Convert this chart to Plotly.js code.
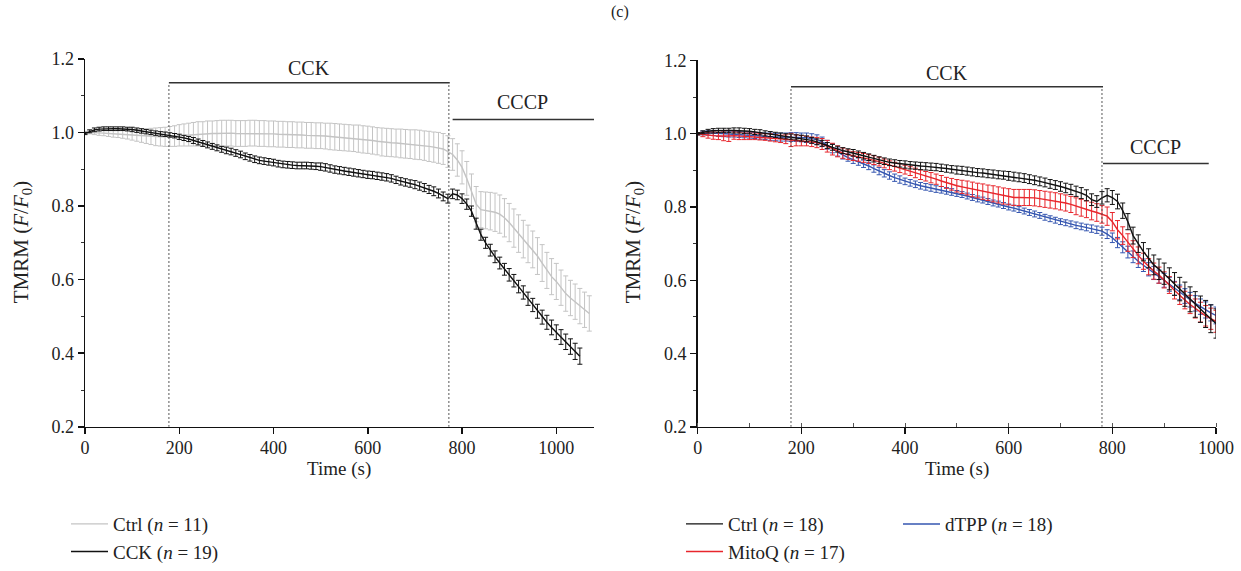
<!DOCTYPE html>
<html>
<head>
<meta charset="utf-8">
<script src="https://cdn.plot.ly/plotly-3.0.1.min.js"></script>
<style>html,body{margin:0;padding:0;background:#fff;}#chart{width:1241px;height:571px;}</style>
</head>
<body>
<div id="chart"></div>
<script>
// Time stamps (s)
var timeS = [0,10,20,30,40,50,60,70,80,90,
100,110,120,130,140,150,160,170,180,190,
200,210,220,230,240,250,260,270,280,290,
300,310,320,330,340,350,360,370,380,390,
400,410,420,430,440,450,460,470,480,490,
500,510,520,530,540,550,560,570,580,590,
600,610,620,630,640,650,660,670,680,690,
700,710,720,730,740,750,760,770,780,790,
800,810,820,830,840,850,860,870,880,890,
900,910,920,930,940,950,960,970,980,990,
1000,1010,1020,1030,1040,1050,1060,1070];

// Panel 1: Ctrl (n = 11)
var leftCtrl = [1.000,1.000,0.999,0.998,0.998,0.997,0.996,0.996,0.995,0.994,
0.993,0.992,0.991,0.990,0.989,0.988,0.988,0.988,0.989,0.990,
0.992,0.993,0.994,0.995,0.996,0.996,0.997,0.997,0.997,0.998,
0.998,0.998,0.997,0.997,0.997,0.998,0.998,0.997,0.997,0.996,
0.996,0.995,0.995,0.994,0.994,0.993,0.993,0.992,0.992,0.991,
0.991,0.990,0.989,0.988,0.987,0.986,0.985,0.984,0.983,0.981,
0.980,0.978,0.976,0.974,0.973,0.972,0.971,0.970,0.969,0.968,
0.967,0.966,0.964,0.962,0.960,0.958,0.955,0.948,0.940,0.925,
0.905,0.875,0.840,0.805,0.790,0.788,0.786,0.783,0.778,0.768,
0.755,0.740,0.725,0.710,0.697,0.682,0.664,0.645,0.625,0.608,
0.595,0.578,0.562,0.550,0.540,0.528,0.518,0.508];
var leftCtrlErr = [0.003,0.004,0.005,0.006,0.007,0.008,0.009,0.010,0.011,0.012,
0.014,0.016,0.018,0.020,0.022,0.024,0.025,0.026,0.027,0.028,
0.029,0.030,0.031,0.032,0.033,0.033,0.034,0.034,0.035,0.035,
0.035,0.035,0.035,0.035,0.035,0.035,0.035,0.035,0.035,0.035,
0.035,0.035,0.035,0.035,0.035,0.035,0.035,0.035,0.035,0.035,
0.035,0.035,0.036,0.036,0.036,0.036,0.036,0.036,0.037,0.037,
0.037,0.037,0.037,0.038,0.038,0.038,0.038,0.039,0.039,0.039,
0.040,0.040,0.040,0.041,0.041,0.042,0.042,0.043,0.043,0.044,
0.045,0.046,0.047,0.048,0.049,0.050,0.051,0.052,0.052,0.052,
0.052,0.052,0.051,0.051,0.051,0.050,0.050,0.050,0.049,0.049,
0.049,0.048,0.048,0.048,0.048,0.048,0.048,0.048];

// Panel 1: CCK (n = 19)
var leftCCK = [0.997,1.003,1.007,1.009,1.010,1.010,1.010,1.010,1.010,1.009,
1.008,1.006,1.004,1.002,1.000,0.998,0.996,0.995,0.993,0.991,
0.988,0.985,0.982,0.978,0.974,0.970,0.966,0.962,0.958,0.954,
0.951,0.948,0.944,0.940,0.935,0.931,0.927,0.924,0.922,0.920,
0.918,0.915,0.913,0.912,0.911,0.910,0.910,0.910,0.909,0.908,
0.907,0.905,0.902,0.899,0.897,0.895,0.893,0.891,0.889,0.887,
0.885,0.884,0.882,0.880,0.878,0.875,0.871,0.867,0.864,0.861,
0.858,0.854,0.850,0.845,0.840,0.834,0.826,0.820,0.833,0.830,
0.820,0.805,0.786,0.752,0.722,0.700,0.680,0.662,0.645,0.628,
0.613,0.597,0.581,0.565,0.548,0.531,0.514,0.498,0.484,0.470,
0.457,0.444,0.431,0.418,0.405,0.392];
var leftCCKErr = [0.003,0.004,0.005,0.005,0.005,0.005,0.005,0.005,0.005,0.005,
0.006,0.006,0.006,0.006,0.006,0.006,0.006,0.006,0.006,0.006,
0.007,0.007,0.007,0.008,0.008,0.008,0.008,0.008,0.008,0.008,
0.009,0.009,0.009,0.009,0.009,0.009,0.009,0.009,0.009,0.009,
0.009,0.009,0.009,0.009,0.009,0.009,0.009,0.009,0.009,0.009,
0.010,0.010,0.010,0.010,0.010,0.010,0.010,0.010,0.010,0.010,
0.010,0.010,0.010,0.010,0.010,0.010,0.010,0.010,0.010,0.010,
0.011,0.011,0.011,0.011,0.012,0.012,0.012,0.012,0.013,0.013,
0.013,0.014,0.014,0.015,0.015,0.015,0.016,0.016,0.016,0.016,
0.017,0.017,0.017,0.018,0.018,0.018,0.019,0.019,0.019,0.020,
0.020,0.020,0.021,0.021,0.022,0.022];

// Panel 2: Ctrl (n = 18)
var rightCtrl = [1.000,1.004,1.007,1.008,1.009,1.009,1.009,1.009,1.009,1.008,
1.007,1.005,1.004,1.001,0.999,0.997,0.995,0.993,0.992,0.990,
0.988,0.986,0.982,0.978,0.974,0.968,0.963,0.958,0.954,0.951,
0.948,0.944,0.940,0.936,0.932,0.928,0.925,0.922,0.920,0.918,
0.916,0.914,0.913,0.912,0.911,0.910,0.909,0.907,0.905,0.903,
0.901,0.900,0.898,0.896,0.894,0.893,0.891,0.890,0.888,0.887,
0.885,0.883,0.881,0.879,0.876,0.873,0.870,0.867,0.863,0.860,
0.856,0.852,0.848,0.843,0.838,0.832,0.820,0.815,0.825,0.832,
0.826,0.815,0.790,0.760,0.722,0.700,0.678,0.660,0.642,0.630,
0.618,0.604,0.590,0.576,0.562,0.548,0.534,0.521,0.508,0.495,
0.482];
var rightCtrlErr = [0.003,0.004,0.005,0.006,0.006,0.006,0.006,0.007,0.007,0.007,
0.007,0.007,0.007,0.007,0.007,0.007,0.007,0.007,0.007,0.007,
0.008,0.008,0.008,0.008,0.008,0.008,0.008,0.008,0.008,0.008,
0.009,0.009,0.009,0.009,0.009,0.009,0.009,0.009,0.009,0.009,
0.010,0.010,0.010,0.010,0.010,0.010,0.010,0.010,0.010,0.010,
0.011,0.011,0.011,0.011,0.011,0.011,0.011,0.011,0.011,0.011,
0.012,0.012,0.012,0.012,0.012,0.012,0.012,0.012,0.012,0.012,
0.013,0.013,0.014,0.014,0.015,0.015,0.016,0.016,0.017,0.018,
0.019,0.020,0.021,0.022,0.023,0.024,0.025,0.026,0.027,0.028,
0.029,0.030,0.031,0.032,0.033,0.034,0.035,0.036,0.037,0.038,
0.040];

// Panel 2: MitoQ (n = 17)
var rightMitoQ = [1.000,0.998,0.996,0.995,0.994,0.993,0.994,0.995,0.994,0.993,
0.993,0.993,0.992,0.991,0.990,0.988,0.986,0.985,0.983,0.982,
0.981,0.980,0.978,0.976,0.972,0.966,0.958,0.952,0.947,0.943,
0.939,0.937,0.934,0.931,0.928,0.924,0.919,0.914,0.910,0.906,
0.902,0.898,0.893,0.888,0.884,0.880,0.876,0.871,0.866,0.862,
0.858,0.855,0.852,0.848,0.845,0.842,0.839,0.836,0.833,0.830,
0.828,0.826,0.826,0.826,0.826,0.825,0.823,0.821,0.819,0.817,
0.814,0.811,0.807,0.802,0.798,0.794,0.789,0.785,0.780,0.775,
0.760,0.738,0.722,0.703,0.685,0.668,0.652,0.637,0.625,0.614,
0.601,0.587,0.572,0.558,0.546,0.534,0.523,0.513,0.503,0.495,
0.488];
var rightMitoQErr = [0.003,0.006,0.008,0.010,0.010,0.012,0.015,0.010,0.010,0.009,
0.009,0.009,0.009,0.009,0.010,0.010,0.010,0.012,0.018,0.015,
0.014,0.013,0.013,0.014,0.015,0.016,0.016,0.015,0.014,0.013,
0.012,0.012,0.012,0.012,0.012,0.012,0.012,0.012,0.012,0.012,
0.012,0.012,0.013,0.013,0.013,0.014,0.014,0.015,0.015,0.016,
0.017,0.018,0.019,0.020,0.020,0.021,0.021,0.022,0.022,0.022,
0.022,0.022,0.022,0.022,0.022,0.022,0.022,0.022,0.022,0.022,
0.022,0.022,0.022,0.023,0.023,0.023,0.024,0.024,0.024,0.025,
0.025,0.025,0.024,0.024,0.023,0.023,0.022,0.022,0.022,0.022,
0.022,0.023,0.023,0.024,0.024,0.025,0.026,0.027,0.028,0.029,
0.030];

// Panel 2: dTPP (n = 18)
var rightDTPP = [1.000,1.002,1.002,1.002,1.001,1.000,0.999,0.999,0.998,0.997,
0.996,0.995,0.994,0.993,0.992,0.991,0.991,0.991,0.991,0.991,
0.990,0.989,0.987,0.984,0.978,0.970,0.960,0.950,0.942,0.935,
0.929,0.924,0.918,0.912,0.905,0.898,0.892,0.886,0.880,0.875,
0.870,0.866,0.862,0.858,0.855,0.852,0.849,0.847,0.844,0.841,
0.837,0.834,0.830,0.826,0.822,0.819,0.815,0.811,0.808,0.804,
0.800,0.797,0.793,0.789,0.785,0.781,0.777,0.772,0.768,0.764,
0.760,0.757,0.754,0.750,0.747,0.744,0.741,0.738,0.734,0.726,
0.716,0.703,0.690,0.677,0.664,0.652,0.641,0.630,0.620,0.610,
0.600,0.589,0.578,0.567,0.557,0.547,0.537,0.528,0.519,0.511,
0.504];
var rightDTPPErr = [0.003,0.005,0.006,0.007,0.008,0.008,0.008,0.008,0.008,0.008,
0.008,0.008,0.009,0.009,0.010,0.010,0.011,0.011,0.012,0.012,
0.012,0.013,0.013,0.013,0.013,0.012,0.012,0.011,0.011,0.010,
0.010,0.010,0.010,0.010,0.010,0.010,0.010,0.010,0.010,0.010,
0.009,0.009,0.009,0.009,0.009,0.009,0.009,0.009,0.009,0.009,
0.008,0.008,0.008,0.008,0.008,0.008,0.008,0.008,0.008,0.008,
0.008,0.008,0.008,0.008,0.008,0.008,0.008,0.008,0.008,0.008,
0.008,0.008,0.008,0.009,0.009,0.009,0.010,0.010,0.011,0.012,
0.013,0.014,0.015,0.016,0.016,0.017,0.017,0.018,0.018,0.018,
0.019,0.019,0.019,0.020,0.020,0.020,0.021,0.021,0.022,0.022,
0.023];

// Labels
var seriesNames = ['Ctrl (<i>n</i> = 11)', 'CCK (<i>n</i> = 19)', 'Ctrl (<i>n</i> = 18)', 'MitoQ (<i>n</i> = 17)', 'dTPP (<i>n</i> = 18)'];
var xTickVals = [0,200,400,600,800,1000];
var yTickVals = [0.2,0.4,0.6,0.8,1.0,1.2];
var panelTitle = '(c)';
var yTitle = 'TMRM (<i>F</i>/<i>F</i><sub>0</sub>)';
var xTitle = 'Time (s)';
var stimLabels = ['CCK', 'CCCP'];

var FONT = "'Liberation Serif', 'Times New Roman', serif";
var TXT = '#222';
var GRAY = '#c4c4c4', BLACK = '#111111', RED = '#e8262c', BLUE = '#3556b0';

function tr(y, err, name, color, xa, ya, leg, rank) {
  return {
    type: 'scatter', mode: 'lines',
    x: timeS.slice(0, y.length), y: y,
    name: name, legend: leg, legendrank: rank,
    xaxis: xa, yaxis: ya,
    line: {color: color, width: 1.4},
    error_y: {type: 'data', array: err, visible: true, color: color, thickness: 1, width: 2.5}
  };
}

var data = [
  tr(leftCtrl, leftCtrlErr, seriesNames[0], GRAY, 'x', 'y', 'legend', 1),
  tr(leftCCK, leftCCKErr, seriesNames[1], BLACK, 'x', 'y', 'legend', 2),
  tr(rightDTPP, rightDTPPErr, seriesNames[4], BLUE, 'x2', 'y2', 'legend3', 3),
  tr(rightMitoQ, rightMitoQErr, seriesNames[3], RED, 'x2', 'y2', 'legend2', 2),
  tr(rightCtrl, rightCtrlErr, seriesNames[2], BLACK, 'x2', 'y2', 'legend2', 1)
];

function xax(domain, range, minor) {
  var a = {
    domain: domain, range: range, tickvals: xTickVals,
    showline: true, linecolor: '#111', linewidth: 1.5,
    ticks: 'outside', ticklen: 6, tickwidth: 1.5, tickcolor: '#111',
    ticklabelstandoff: -2,
    tickfont: {family: FONT, size: 18, color: TXT},
    showgrid: false, zeroline: false, fixedrange: true
  };
  if (minor) a.minor = {dtick: 100, ticks: 'inside', ticklen: 4, tickwidth: 1, tickcolor: '#555', showgrid: false};
  return a;
}
function yax(domain, anchor) {
  return {
    domain: domain, range: [0.2, 1.2], tickvals: yTickVals, tickformat: '.1f', anchor: anchor,
    showline: true, linecolor: '#111', linewidth: 1.5,
    ticks: 'outside', ticklen: 6, tickwidth: 1.5, tickcolor: '#111',
    tickfont: {family: FONT, size: 18, color: TXT},
    minor: {dtick: 0.1, ticks: 'outside', ticklen: 3, tickwidth: 1, tickcolor: '#333', showgrid: false},
    showgrid: false, zeroline: false, fixedrange: true
  };
}

var H = 571, W = 1241;
function px(v) { return v / W; }
function py(v) { return 1 - v / H; }

function legendCfg(xp) {
  return {x: px(xp), y: py(507), xanchor: 'left', yanchor: 'top', bgcolor: 'rgba(0,0,0,0)',
    font: {family: FONT, size: 19, color: TXT}, tracegroupgap: 0, itemwidth: 37};
}

function ann(text, xref, yref, x, y, size, extra) {
  return Object.assign({text: text, xref: xref, yref: yref, x: x, y: y, showarrow: false,
    xanchor: 'center', yanchor: 'middle', font: {family: FONT, size: size, color: TXT}}, extra || {});
}

var layout = {
  width: W, height: H,
  margin: {l: 0, r: 0, t: 0, b: 0},
  paper_bgcolor: '#fff', plot_bgcolor: 'rgba(0,0,0,0)',
  font: {family: FONT, color: TXT, size: 16},
  xaxis: Object.assign(xax([px(85), px(594)], [0, 1080], false), {anchor: 'y'}),
  yaxis: yax([py(428.3), py(59)], 'x'),
  xaxis2: Object.assign(xax([px(697.7), px(1216)], [0, 1000], true), {anchor: 'y2'}),
  yaxis2: yax([py(428.3), py(60.7)], 'x2'),
  legend: legendCfg(66),
  legend2: legendCfg(681),
  legend3: legendCfg(898),
  shapes: [
    {type: 'line', xref: 'x', yref: 'y', x0: 178, x1: 178, y0: 0.2, y1: 1.135, line: {color: '#444', width: 1.2, dash: '1.5px,2.5px'}},
    {type: 'line', xref: 'x', yref: 'y', x0: 772, x1: 772, y0: 0.2, y1: 1.135, line: {color: '#444', width: 1.2, dash: '1.5px,2.5px'}},
    {type: 'line', xref: 'x', yref: 'y', x0: 178, x1: 774, y0: 1.135, y1: 1.135, line: {color: '#333', width: 1.5}},
    {type: 'line', xref: 'x', yref: 'y', x0: 780, x1: 1080, y0: 1.035, y1: 1.035, line: {color: '#333', width: 1.5}},
    {type: 'line', xref: 'x2', yref: 'y2', x0: 180, x1: 180, y0: 0.2, y1: 1.128, line: {color: '#444', width: 1.2, dash: '1.5px,2.5px'}},
    {type: 'line', xref: 'x2', yref: 'y2', x0: 780, x1: 780, y0: 0.2, y1: 1.128, line: {color: '#444', width: 1.2, dash: '1.5px,2.5px'}},
    {type: 'line', xref: 'x2', yref: 'y2', x0: 180, x1: 782, y0: 1.128, y1: 1.128, line: {color: '#333', width: 1.5}},
    {type: 'line', xref: 'x2', yref: 'y2', x0: 782, x1: 986, y0: 0.919, y1: 0.919, line: {color: '#333', width: 1.5}}
  ],
  annotations: [
    ann(panelTitle, 'paper', 'paper', px(620), py(12), 16),
    ann(yTitle, 'paper', 'paper', px(22), py(243), 21, {textangle: -90}),
    ann(yTitle, 'paper', 'paper', px(634), py(243), 21, {textangle: -90}),
    ann(xTitle, 'paper', 'paper', px(339), py(471), 19),
    ann(xTitle, 'paper', 'paper', px(957), py(471), 19),
    ann(stimLabels[0], 'x', 'y', 476, 1.176, 20),
    ann(stimLabels[1], 'x', 'y', 928, 1.082, 20),
    ann(stimLabels[0], 'x2', 'y2', 481, 1.165, 20),
    ann(stimLabels[1], 'x2', 'y2', 884, 0.965, 20)
  ]
};

Plotly.newPlot('chart', data, layout, {staticPlot: true, displayModeBar: false});
</script>
</body>
</html>
